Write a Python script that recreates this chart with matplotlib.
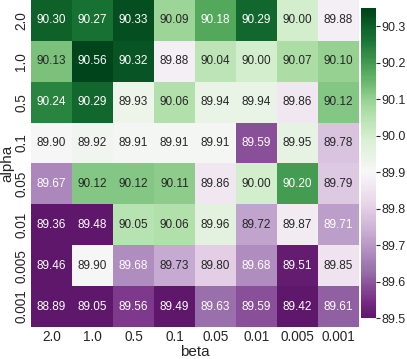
import numpy as np
import pandas as pd
import seaborn as sns
import matplotlib.pyplot as plt

alphas = ['2.0', '1.0', '0.5', '0.1', '0.05', '0.01', '0.005', '0.001']
betas = ['2.0', '1.0', '0.5', '0.1', '0.05', '0.01', '0.005', '0.001']

row_2_0 = [90.30, 90.27, 90.33, 90.09, 90.18, 90.29, 90.00, 89.88]
row_1_0 = [90.13, 90.56, 90.32, 89.88, 90.04, 90.00, 90.07, 90.10]
row_0_5 = [90.24, 90.29, 89.93, 90.06, 89.94, 89.94, 89.86, 90.12]
row_0_1 = [89.90, 89.92, 89.91, 89.91, 89.91, 89.59, 89.95, 89.78]
row_0_05 = [89.67, 90.12, 90.12, 90.11, 89.86, 90.00, 90.20, 89.79]
row_0_01 = [89.36, 89.48, 90.05, 90.06, 89.96, 89.72, 89.87, 89.71]
row_0_005 = [89.46, 89.90, 89.68, 89.73, 89.80, 89.68, 89.51, 89.85]
row_0_001 = [88.89, 89.05, 89.56, 89.49, 89.63, 89.59, 89.42, 89.61]

cbar_ticks = [89.5, 89.6, 89.7, 89.8, 89.9, 90.0, 90.1, 90.2, 90.3]

df = pd.DataFrame([row_2_0, row_1_0, row_0_5, row_0_1, row_0_05,
                   row_0_01, row_0_005, row_0_001],
                  index=alphas, columns=betas)

sns.set_theme(style='white')
plt.rcParams['font.family'] = ['Liberation Sans', 'DejaVu Sans']

fig = plt.figure(figsize=(4.07, 3.59), dpi=100)
ax = fig.add_axes([0.0762, 0.0891, 0.806, 0.911])
cax = fig.add_axes([0.887, 0.114, 0.037, 0.863])

sns.heatmap(df, ax=ax, cbar_ax=cax, cmap='PRGn', vmin=89.5, vmax=90.35,
            center=89.9, annot=True, fmt='.2f', annot_kws={'fontsize': 8.5})

ax.set_xlabel('beta', fontsize=11, labelpad=1)
ax.set_ylabel('alpha', fontsize=11, labelpad=0)
ax.tick_params(axis='both', labelsize=9.8, length=0, pad=2)
ax.set_yticklabels(alphas, rotation=90, va='center')
ax.set_xticklabels(betas, rotation=0)

cax.set_yticks(cbar_ticks)
cax.set_yticklabels(['%.1f' % v for v in cbar_ticks])
cax.tick_params(labelsize=9, length=3, width=0.8, pad=1, right=True)

fig.savefig('out.png', dpi=100)
